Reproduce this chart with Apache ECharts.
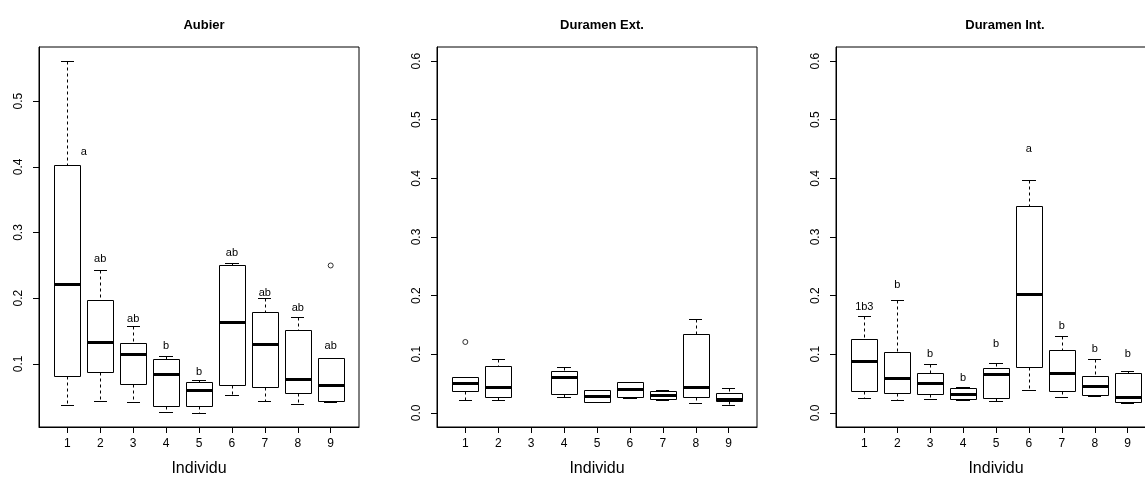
<!DOCTYPE html>
<html><head><meta charset="utf-8">
<script src="https://cdn.jsdelivr.net/npm/echarts@6/dist/echarts.min.js"></script>
<style>html,body{margin:0;padding:0;background:#fff}#c{width:1145px;height:477px}</style>
</head><body><div id="c"></div>
<script>
// ---- data ----
const individus = [1, 2, 3, 4, 5, 6, 7, 8, 9];
const panelTitles = ['Aubier', 'Duramen Ext.', 'Duramen Int.'];
const xTitle = 'Individu';
const yTicksAubier = [0.1, 0.2, 0.3, 0.4, 0.5];
const yTicksDuramen = [0.0, 0.1, 0.2, 0.3, 0.4, 0.5, 0.6];

const aubierMin = [0.0375, 0.044, 0.042, 0.0263, 0.0253, 0.0527, 0.0436, 0.039, 0.0416];
const aubierQ1  = [0.0817, 0.0878, 0.069, 0.036, 0.0364, 0.0685, 0.0654, 0.0563, 0.044];
const aubierMed = [0.222, 0.1335, 0.1148, 0.0852, 0.060, 0.1645, 0.130, 0.0767, 0.0675];
const aubierQ3  = [0.402, 0.1976, 0.132, 0.108, 0.073, 0.251, 0.1788, 0.152, 0.109];
const aubierMax = [0.561, 0.243, 0.157, 0.1127, 0.076, 0.2535, 0.201, 0.171, 0.109];
const aubierOutliers = [[9, 0.2498]];
const aubierLetters = ['a', 'ab', 'ab', 'b', 'b', 'ab', 'ab', 'ab', 'ab'];
const aubierLetterX = [1.5, 2, 3, 4, 5, 6, 7, 8, 9];
const aubierLetterY = [0.422, 0.26, 0.169, 0.128, 0.088, 0.2687, 0.2087, 0.185, 0.128];

const extMin = [0.0227, 0.0227, null, 0.0273, 0.019, 0.025, 0.022, 0.017, 0.0136];
const extQ1  = [0.037, 0.0273, null, 0.0324, 0.0193, 0.0278, 0.0233, 0.0273, 0.0204];
const extMed = [0.0506, 0.0438, null, 0.0608, 0.029, 0.041, 0.030, 0.0438, 0.0244];
const extQ3  = [0.0608, 0.0806, null, 0.072, 0.039, 0.0534, 0.038, 0.1346, 0.0335];
const extMax = [0.0608, 0.0915, null, 0.0778, 0.039, 0.0534, 0.0397, 0.1607, 0.0431];
const extOutliers = [[1, 0.121]];

const intMin = [0.026, 0.0227, 0.0239, 0.0216, 0.0199, 0.0386, 0.0273, 0.029, 0.017];
const intQ1  = [0.038, 0.0346, 0.0324, 0.0233, 0.025, 0.079, 0.037, 0.030, 0.0193];
const intMed = [0.0886, 0.059, 0.0517, 0.0318, 0.066, 0.2033, 0.0687, 0.0455, 0.0278];
const intQ3  = [0.1266, 0.1045, 0.0676, 0.042, 0.0767, 0.3526, 0.107, 0.0636, 0.0676];
const intMax = [0.1658, 0.193, 0.0835, 0.0449, 0.0857, 0.398, 0.131, 0.0925, 0.072];
const intOutliers = [];
const intLetters = ['1b3', 'b', 'b', 'b', 'b', 'a', 'b', 'b', 'b'];
const intLetterX = [1, 2, 3, 4, 5, 6, 7, 8, 9];
const intLetterY = [0.18, 0.219, 0.1, 0.059, 0.118, 0.45, 0.149, 0.1095, 0.1];

// ---- chart ----
const FONT = "'Liberation Sans', Arial, Helvetica, sans-serif";
function boxData(mn, q1, md, q3, mx) {
  const out = [];
  individus.forEach((x, i) => { if (md[i] != null) out.push([x, mn[i], q1[i], md[i], q3[i], mx[i]]); });
  return out;
}
function letterData(xs, ys, ls) { return ls.map((l, i) => ({ value: [xs[i], ys[i]], name: l })); }
const r5 = v => Math.round(v) + 0.5;

function boxSeries(idx, data) {
  return {
    type: 'custom', xAxisIndex: idx, yAxisIndex: idx, data: data, clip: false,
    encode: { x: 0, y: [1, 2, 3, 4, 5] }, silent: true,
    renderItem(params, api) {
      const x = api.value(0);
      const lo = api.value(1), q1 = api.value(2), md = api.value(3), q3 = api.value(4), hi = api.value(5);
      const L = api.coord([x - 0.4, q1])[0], R = api.coord([x + 0.4, q1])[0];
      const cL = api.coord([x - 0.2, q1])[0], cR = api.coord([x + 0.2, q1])[0];
      const cx = r5(api.coord([x, q1])[0]);
      const y = v => api.coord([x, v])[1];
      const stroke = { stroke: '#000', lineWidth: 1, fill: null };
      const dash = { stroke: '#000', lineWidth: 1, lineDash: [3, 3] };
      const ch = [];
      ch.push({ type: 'line', shape: { x1: cx, y1: r5(y(hi)), x2: cx, y2: r5(y(q3)) }, style: dash });
      ch.push({ type: 'line', shape: { x1: cx, y1: r5(y(q1)), x2: cx, y2: r5(y(lo)) }, style: dash });
      ch.push({ type: 'line', shape: { x1: Math.round(cL), y1: r5(y(hi)), x2: Math.round(cR), y2: r5(y(hi)) }, style: stroke });
      ch.push({ type: 'line', shape: { x1: Math.round(cL), y1: r5(y(lo)), x2: Math.round(cR), y2: r5(y(lo)) }, style: stroke });
      const yt = r5(y(q3)), yb = r5(y(q1));
      ch.push({ type: 'rect', shape: { x: r5(L), y: yt, width: Math.round(R) - Math.round(L), height: yb - yt }, style: { stroke: '#000', lineWidth: 1, fill: '#fff' } });
      ch.push({ type: 'line', shape: { x1: r5(L), y1: Math.round(y(md)) + 0.5, x2: r5(R), y2: Math.round(y(md)) + 0.5 }, style: { stroke: '#000', lineWidth: 3 } });
      return { type: 'group', children: ch };
    }
  };
}
function letterSeries(idx, data) {
  return {
    type: 'custom', xAxisIndex: idx, yAxisIndex: idx, data: data, clip: false, silent: true,
    encode: { x: 0, y: 1 },
    renderItem(params, api) {
      const p = api.coord([api.value(0), api.value(1)]);
      return { type: 'text', x: p[0], y: p[1], style: { text: data[params.dataIndex].name, fill: '#000', font: '11px ' + FONT, textAlign: 'center', textVerticalAlign: 'middle' } };
    }
  };
}
function outlierSeries(idx, data) {
  return {
    type: 'scatter', xAxisIndex: idx, yAxisIndex: idx, data: data, symbol: 'circle', symbolSize: 5, silent: true,
    itemStyle: { color: '#fff', borderColor: '#000', borderWidth: 1 }
  };
}

const gridLefts = [39, 437, 836];
const titleCenters = [199, 597, 1000];
const grids = gridLefts.map(l => ({ left: l, top: 47, width: 320, height: 380, show: true, borderColor: '#000', borderWidth: 1, backgroundColor: 'transparent', containLabel: false, outerBoundsMode: 'none' }));
const xAxes = gridLefts.map((l, i) => ({
  type: 'value', gridIndex: i, min: 0.14, max: 9.86,
  name: xTitle, nameLocation: 'middle', nameGap: 34,
  nameTextStyle: { fontFamily: FONT, fontSize: 16, color: '#000' },
  axisLine: { show: true, onZero: false, lineStyle: { color: '#000', width: 1 } },
  axisTick: { show: true, length: 6, customValues: individus, lineStyle: { color: '#000' } },
  axisLabel: { show: true, margin: 11, fontFamily: FONT, fontSize: 12, color: '#000', customValues: individus, formatter: v => String(v) },
  splitLine: { show: false }
}));
const yRanges = [[0.0039, 0.5824], [-0.024, 0.624], [-0.024, 0.624]];
const yTickSets = [yTicksAubier, yTicksDuramen, yTicksDuramen];
const yAxes = yRanges.map((r, i) => ({
  type: 'value', gridIndex: i, min: r[0], max: r[1],
  axisLine: { show: true, onZero: false, lineStyle: { color: '#000', width: 1 } },
  axisTick: { show: true, length: 6, customValues: yTickSets[i], lineStyle: { color: '#000' } },
  axisLabel: { show: true, rotate: 90, margin: 14, fontFamily: FONT, fontSize: 12, color: '#000', customValues: yTickSets[i], formatter: v => v.toFixed(1) },
  splitLine: { show: false }
}));
const titles = panelTitles.map((t, i) => ({
  text: t, left: titleCenters[i], top: 14, textAlign: 'center',
  textStyle: { fontFamily: FONT, fontSize: 13, fontWeight: 'bold', color: '#000' }
}));

const chart = echarts.init(document.getElementById('c'), null, { renderer: 'canvas' });
chart.setOption({
  animation: false,
  backgroundColor: '#fff',
  title: titles,
  grid: grids,
  xAxis: xAxes,
  yAxis: yAxes,
  series: [
    boxSeries(0, boxData(aubierMin, aubierQ1, aubierMed, aubierQ3, aubierMax)),
    outlierSeries(0, aubierOutliers),
    letterSeries(0, letterData(aubierLetterX, aubierLetterY, aubierLetters)),
    boxSeries(1, boxData(extMin, extQ1, extMed, extQ3, extMax)),
    outlierSeries(1, extOutliers),
    boxSeries(2, boxData(intMin, intQ1, intMed, intQ3, intMax)),
    outlierSeries(2, intOutliers),
    letterSeries(2, letterData(intLetterX, intLetterY, intLetters))
  ]
});
</script></body></html>
